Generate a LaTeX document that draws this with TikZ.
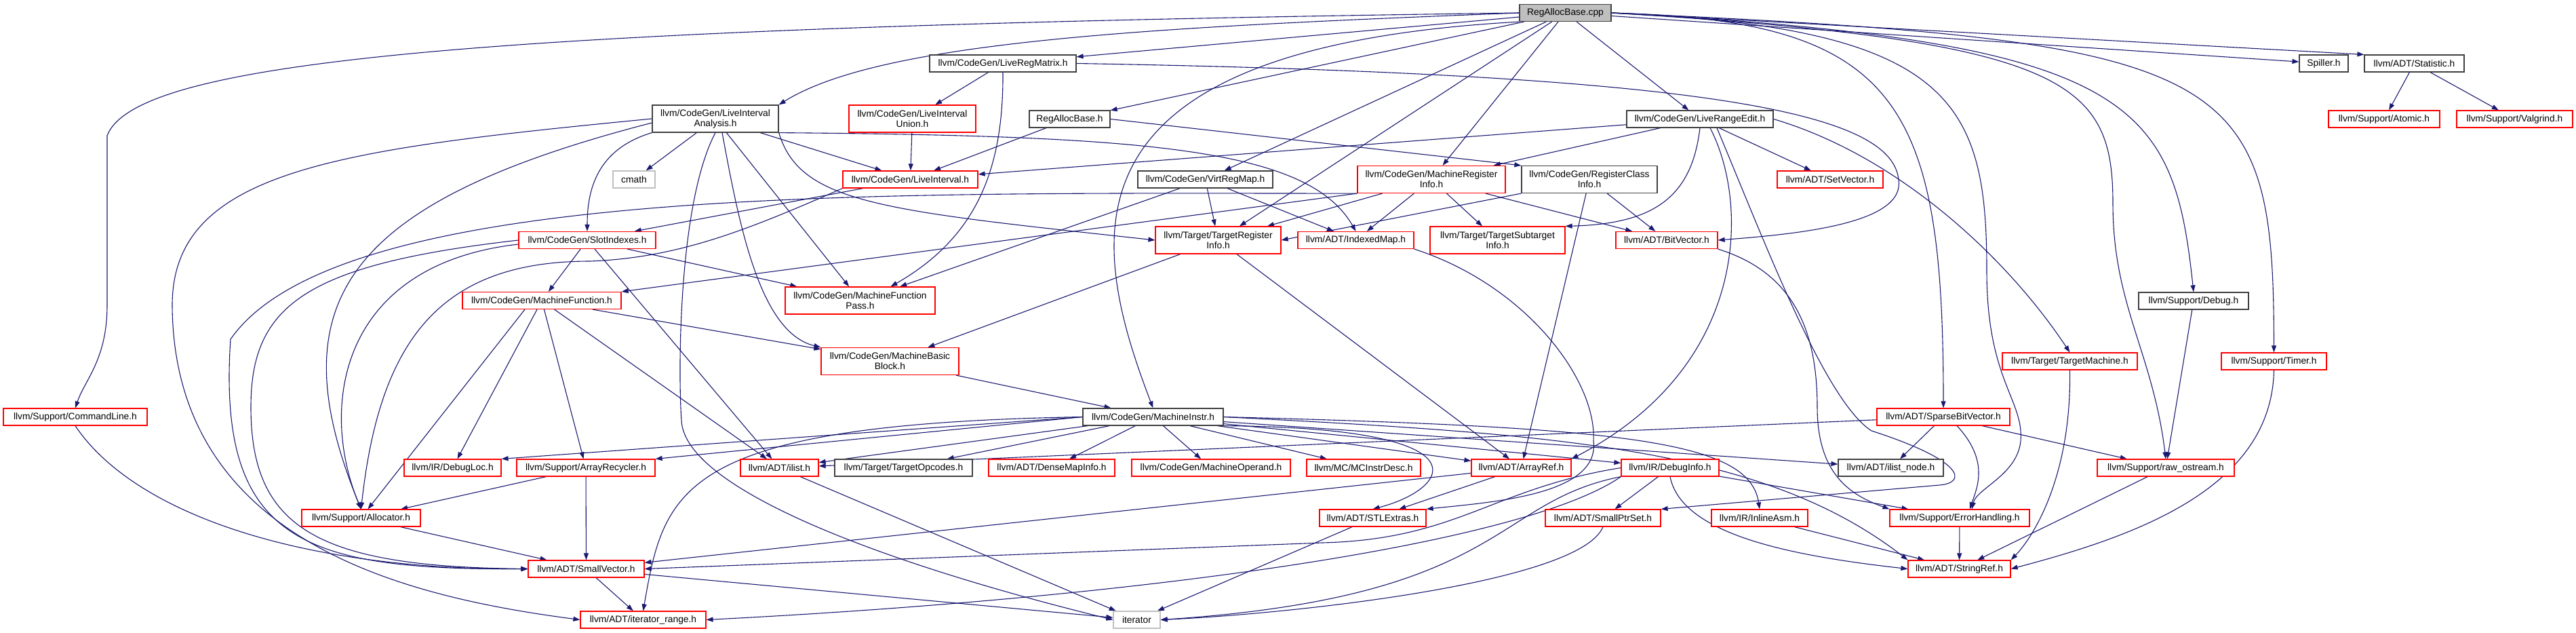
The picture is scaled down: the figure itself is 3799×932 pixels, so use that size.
\documentclass[tikz,border=0pt]{standalone}
\usepackage{fontspec}
\setmainfont{Liberation Sans}
\usetikzlibrary{arrows.meta, backgrounds}
\definecolor{incblue}{RGB}{25,25,112}
\definecolor{hdrred}{RGB}{255,0,0}
\definecolor{sysgray}{RGB}{191,191,191}
\definecolor{docgray}{RGB}{64,64,64}

\tikzset{
  hfile/.style={rectangle, fill=white, line width=1.2pt, minimum height=25pt, inner sep=2pt,
                align=center, font=\fontsize{13.8}{15}\selectfont},
  redfile/.style={hfile, draw=hdrred},
  docfile/.style={hfile, draw=docgray},
  sysfile/.style={hfile, draw=sysgray},
  srcfile/.style={hfile, draw=docgray, fill=sysgray},
  tall/.style={minimum height=40pt},
  inc/.style={->, draw=incblue, line width=1.1pt},
}

\begin{document}
\begin{tikzpicture}[x=1pt, y=-1pt, >={Triangle[length=10pt, width=7pt]}]
\useasboundingbox (0,0) rectangle (3799,932);

% source file and first level
\node[srcfile, minimum width=135pt] (root) at (2308.5,19) {RegAllocBase.cpp};
\node[docfile, minimum width=216pt] (lrm) at (1479,93.5) {llvm/CodeGen/LiveRegMatrix.h};
\node[docfile, minimum width=72pt] (spiller) at (3427,93.5) {Spiller.h};
\node[docfile, minimum width=147pt] (stat) at (3560.5,93.5) {llvm/ADT/Statistic.h};
\node[docfile, tall, minimum width=186pt] (lia) at (1055,175) {llvm/CodeGen/LiveInterval\\Analysis.h};
\node[redfile, tall, minimum width=187pt] (liu) at (1345.5,175) {llvm/CodeGen/LiveInterval\\Union.h};
\node[docfile, minimum width=119pt] (rabh) at (1577.5,175.5) {RegAllocBase.h};
\node[docfile, minimum width=216pt] (lre) at (2507,175.5) {llvm/CodeGen/LiveRangeEdit.h};
\node[redfile, minimum width=164pt] (atomic) at (3516,175.5) {llvm/Support/Atomic.h};
\node[redfile, minimum width=171pt] (valgrind) at (3708.5,175.5) {llvm/Support/Valgrind.h};
\node[sysfile, minimum width=62pt] (cmath) at (935,264.5) {cmath};
\node[redfile, minimum width=199pt] (li) at (1342.5,264.5) {llvm/CodeGen/LiveInterval.h};
\node[docfile, minimum width=199pt] (vrm) at (1777.5,264.5) {llvm/CodeGen/VirtRegMap.h};
\node[redfile, tall, minimum width=218pt] (mri) at (2111,264.5) {llvm/CodeGen/MachineRegister\\Info.h};
\node[docfile, tall, minimum width=200pt] (rci) at (2344,264.5) {llvm/CodeGen/RegisterClass\\Info.h};
\node[redfile, minimum width=156pt] (setvec) at (2699,264.5) {llvm/ADT/SetVector.h};
\node[redfile, minimum width=202pt] (slot) at (866,354) {llvm/CodeGen/SlotIndexes.h};
\node[redfile, tall, minimum width=185pt] (tri) at (1796.5,354) {llvm/Target/TargetRegister\\Info.h};
\node[redfile, minimum width=171pt] (imap) at (1999.5,354) {llvm/ADT/IndexedMap.h};
\node[redfile, tall, minimum width=199pt] (tsi) at (2208.5,354) {llvm/Target/TargetSubtarget\\Info.h};
\node[redfile, minimum width=150pt] (bitvec) at (2458,354) {llvm/ADT/BitVector.h};
\node[redfile, minimum width=234pt] (mf) at (799,443) {llvm/CodeGen/MachineFunction.h};
\node[redfile, tall, minimum width=221pt] (mfp) at (1268.5,443) {llvm/CodeGen/MachineFunction\\Pass.h};
\node[docfile, minimum width=162pt] (debug) at (3235,443.5) {llvm/Support/Debug.h};
\node[redfile, tall, minimum width=203pt] (mbb) at (1312.5,532.5) {llvm/CodeGen/MachineBasic\\Block.h};
\node[redfile, minimum width=199pt] (tm) at (3052.5,532.5) {llvm/Target/TargetMachine.h};
\node[redfile, minimum width=155pt] (timer) at (3353.5,532.5) {llvm/Support/Timer.h};
\node[redfile, minimum width=212pt] (cl) at (111,614.5) {llvm/Support/CommandLine.h};
\node[docfile, minimum width=207pt] (mi) at (1700.5,614.5) {llvm/CodeGen/MachineInstr.h};
\node[redfile, minimum width=196pt] (sbv) at (2866,614.5) {llvm/ADT/SparseBitVector.h};
\node[redfile, minimum width=143pt] (dloc) at (667.5,689.5) {llvm/IR/DebugLoc.h};
\node[redfile, minimum width=204pt] (arec) at (864,689.5) {llvm/Support/ArrayRecycler.h};
\node[redfile, minimum width=115pt] (ilist) at (1149.5,689.5) {llvm/ADT/ilist.h};
\node[docfile, minimum width=203pt] (topc) at (1332.5,689.5) {llvm/Target/TargetOpcodes.h};
\node[redfile, minimum width=186pt] (dmi) at (1551,689.5) {llvm/ADT/DenseMapInfo.h};
\node[redfile, minimum width=234pt] (mop) at (1786,689.5) {llvm/CodeGen/MachineOperand.h};
\node[redfile, minimum width=168pt] (mcid) at (2011,689.5) {llvm/MC/MCInstrDesc.h};
\node[redfile, minimum width=147pt] (aref) at (2243.5,689.5) {llvm/ADT/ArrayRef.h};
\node[redfile, minimum width=144pt] (dinfo) at (2463,689.5) {llvm/IR/DebugInfo.h};
\node[docfile, minimum width=155pt] (inode) at (2788.5,689.5) {llvm/ADT/ilist\_node.h};
\node[redfile, minimum width=202pt] (rawos) at (3194,689.5) {llvm/Support/raw\_ostream.h};
\node[redfile, minimum width=175pt] (alloc) at (532.5,763.5) {llvm/Support/Allocator.h};
\node[redfile, minimum width=157pt] (stlx) at (2024.5,763.5) {llvm/ADT/STLExtras.h};
\node[redfile, minimum width=170pt] (sptr) at (2364,763.5) {llvm/ADT/SmallPtrSet.h};
\node[redfile, minimum width=142pt] (iasm) at (2595,763.5) {llvm/IR/InlineAsm.h};
\node[redfile, minimum width=206pt] (errh) at (2890,763.5) {llvm/Support/ErrorHandling.h};
\node[redfile, minimum width=171pt] (svec) at (864.5,838.5) {llvm/ADT/SmallVector.h};
\node[redfile, minimum width=151pt] (sref) at (2889.5,838.5) {llvm/ADT/StringRef.h};
\node[redfile, minimum width=185pt] (irange) at (948.5,913.5) {llvm/ADT/iterator\_range.h};
\node[sysfile, minimum width=69pt] (iter) at (1676.5,913.5) {iterator};

\begin{scope}[on background layer]
% plain includes
\foreach \a/\b in {root/lrm, root/rabh, root/vrm, root/tri, root/mri, root/lre, root/spiller,
    stat/atomic, stat/valgrind, lrm/liu, lia/cmath, lia/li, lia/mfp, liu/li, rabh/li,
    lre/li, lre/mri, lre/setvec, li/slot, vrm/mfp, vrm/tri, vrm/imap,
    mri/tri, mri/imap, mri/tsi, mri/bitvec, rci/bitvec, rci/aref,
    slot/mf, slot/ilist, slot/mfp, tri/mbb, tri/aref,
    mf/dloc, mf/arec, mf/ilist, mf/mbb, mbb/mi, debug/rawos,
    mi/topc, mi/dmi, mi/mop, mi/mcid, mi/aref, mi/dinfo, mi/inode, mi/ilist,
    sbv/ilist, sbv/inode, sbv/rawos, arec/alloc, arec/svec, ilist/iter,
    aref/svec, aref/stlx, dinfo/sptr, dinfo/errh, alloc/svec, stlx/iter,
    iasm/sref, errh/sref, rawos/sref, svec/irange, svec/iter}
  \draw[inc] (\a) -- (\b);

\draw[inc] (root.east) -- (stat.north west);
\draw[inc] (rabh.east) -- (rci.north west);
\draw[inc] (rci.south west) -- (tri.east);
\draw[inc] (mri.south west) -- (mf.north east);
\draw[inc] (mi.west) -- (dloc.north east);
\draw[inc] (mi.west) -- (arec.north east);
\draw[inc] ([xshift=-25pt]mf.south) -- ([xshift=10pt]alloc.north);

% routed includes
\draw[inc] (root.west) .. controls (700,40) and (200,90) .. (158,200) -- (158,450)
  .. controls (158,530) and (125,560) .. (cl.north);
\draw[inc] (root.west) .. controls (1700,40) and (1300,60) .. (lia.north east);
\draw[inc] (root.south west) .. controls (1560,70) and (1600,340) .. (mi.north);
\draw[inc] (root.east) .. controls (2800,30) and (2866,150) .. (sbv.north);
\draw[inc] (root.east) .. controls (2880,40) and (2930,150) .. (2930,400)
  .. controls (2930,560) and (2985,590) .. (2980,650)
  .. controls (2975,700) and (2915,720) .. ([xshift=18pt]errh.north);
\draw[inc] (root.east) .. controls (3050,60) and (3116,120) .. (3116,300)
  .. controls (3116,450) and (3175,520) .. (rawos.north);
\draw[inc] (root.east) .. controls (3150,60) and (3205,150) .. (debug.north);
\draw[inc] (root.east) .. controls (3300,60) and (3353,100) .. (timer.north);
\draw[inc] (lrm.south) .. controls (1480,250) and (1440,350) .. ([xshift=45pt]mfp.north);
\draw[inc] (lrm.east) .. controls (2550,110) and (2790,170) .. (2800,265)
  .. controls (2810,330) and (2650,345) .. (bitvec.east);
\draw[inc] (lia.west) .. controls (500,220) and (254,250) .. (254,450)
  .. controls (256,800) and (600,880) .. (irange.west);
\draw[inc] ([yshift=-6pt]lia.west) .. controls (500,300) and (410,450) .. (alloc.north);
\draw[inc] (lia.south west) .. controls (880,220) and (866,280) .. (slot.north);
\draw[inc] (lia.south) .. controls (1000,300) and (1000,550) .. (1005,620)
  .. controls (1010,720) and (1300,830) .. (iter.west);
\draw[inc] ([xshift=10pt]lia.south) .. controls (1090,330) and (1120,490) .. (mbb.north west);
\draw[inc] (lia.south east) .. controls (1180,300) and (1300,310) .. (tri.west);
\draw[inc] (lia.south east) .. controls (1700,200) and (1930,220) .. (imap.north);
\draw[inc] (imap.south east) .. controls (2250,420) and (2355,560) .. (2350,650)
  .. controls (2360,730) and (2200,740) .. (stlx.north east);
\draw[inc] (lre.south) .. controls (2495,290) and (2440,330) .. (tsi.north east);
\draw[inc] ([xshift=15pt]lre.south) .. controls (2580,300) and (2580,540) .. (aref.north east);
\draw[inc] ([xshift=25pt]lre.south) .. controls (2600,350) and (2690,590) .. (2760,635)
  .. controls (2900,680) and (2900,712) .. (2860,715) -- (sptr.north east);
\draw[inc] (lre.east) .. controls (2800,230) and (2960,380) .. (tm.north);
\draw[inc] (mri.south west) .. controls (1300,285) and (500,270) .. (340,500)
  .. controls (320,800) and (450,840) .. (svec.west);
\draw[inc] (slot.west) .. controls (450,390) and (370,450) .. (370,600)
  .. controls (370,780) and (470,835) .. (svec.west);
\draw[inc] ([yshift=-6pt]slot.west) .. controls (500,390) and (470,600) .. (alloc.north);
\draw[inc] (li.south west) .. controls (1100,340) and (1000,380) .. (870,385)
  .. controls (650,385) and (560,500) .. (alloc.north);
\draw[inc] (cl.south) .. controls (200,760) and (450,840) .. (svec.west);
\draw[inc] (mi.west) .. controls (1000,625) and (980,720) .. (irange.north);
\draw[inc] (mi.south east) .. controls (2200,630) and (2140,720) .. (stlx.north);
\draw[inc] (mi.east) .. controls (2300,640) and (2600,660) .. (sref.north west);
\draw[inc] (mi.east) .. controls (2400,630) and (2580,650) .. (iasm.north);
\draw[inc] ([xshift=20pt]sbv.south) .. controls (2935,680) and (2915,720) .. ([xshift=15pt]errh.north);
\draw[inc] (bitvec.south east) .. controls (2640,400) and (2680,480) .. (2680,600)
  .. controls (2680,700) and (2730,730) .. (errh.north west);
\draw[inc] (tm.south) .. controls (3055,700) and (3000,790) .. (sref.north east);
\draw[inc] (timer.south) .. controls (3350,720) and (3150,790) .. (sref.east);
\draw[inc] (dinfo.west) .. controls (2200,720) and (2150,795) .. (1950,800) -- (svec.east);
\draw[inc] (dinfo.south west) .. controls (2250,800) and (1700,880) .. (irange.east);
\draw[inc] (dinfo.south west) .. controls (2200,740) and (2220,880) .. (iter.east);
\draw[inc] (dinfo.south) .. controls (2480,790) and (2650,820) .. (sref.west);
\draw[inc] (sptr.south) .. controls (2330,860) and (1900,905) .. (iter.east);
\end{scope}
\end{tikzpicture}
\end{document}
